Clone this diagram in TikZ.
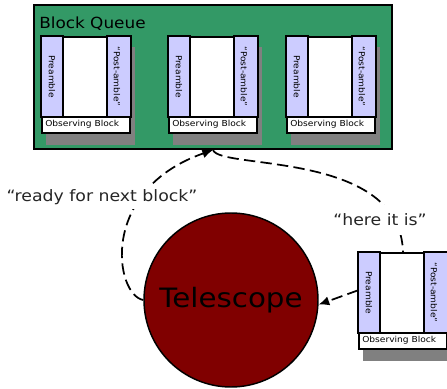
\documentclass[tikz,border=0pt]{standalone}
\usepackage{fontspec}
\setmainfont{DejaVu Sans}[FakeStretch=1.1]
\usetikzlibrary{arrows.meta}

\definecolor{queuegreen}{RGB}{51,153,102}
\definecolor{amblelav}{RGB}{204,204,255}
\definecolor{scopered}{RGB}{128,0,0}
\definecolor{shadowgrey}{RGB}{128,128,128}

\tikzset{
  blockbox/.style={draw, line width=1.5pt, fill=white, inner sep=0pt,
                   minimum width=66pt, minimum height=72pt},
  amble/.style={draw, line width=1.5pt, fill=amblelav},
  ambletext/.style={rotate=-90, inner sep=0pt, font=\fontsize{6.2}{7}\selectfont},
  captext/.style={inner sep=0pt, font=\fontsize{6.2}{7}\selectfont},
  flow/.style={line width=1.3pt, dash pattern=on 8.5pt off 4pt,
               >={Latex[length=8pt,width=7pt]}},
  talk/.style={fill=white, text=black!85, font=\fontsize{11.8}{14}\selectfont},
}

% name, left, top (pixels)
\newcommand{\obsblock}[3]{%
  \fill[shadowgrey] (#2+5,#3+11) rectangle (#2+94,#3+109);
  \node[blockbox, anchor=north west] (#1) at (#2,#3) {};
  \draw[amble] (#1.north west) rectangle ++(22,81);
  \draw[amble] (#1.north east) rectangle ++(-24,81);
  \draw[line width=1.1pt] (#2,#3+81) -- (#2+88,#3+81);
  \node[ambletext] (#1pre)  at (#2+11,#3+40.5) {Preamble};
  \node[ambletext] (#1post) at (#2+76,#3+40.5) {“Post-amble”};
  \node[captext, anchor=west] (#1cap) at (#2+4,#3+88.5) {Observing Block};
}

\begin{document}
\begin{tikzpicture}[x=0.75pt, y=-0.75pt]
  \useasboundingbox (0,0) rectangle (447,389);

  \node[draw, line width=1.5pt, fill=queuegreen, inner sep=0pt, anchor=north west,
        minimum width=268.5pt, minimum height=108pt] (queue) at (33,4) {};
  \node[anchor=base west, inner sep=0pt, font=\fontsize{11.5}{14}\selectfont] (title) at (39,28) {Block Queue};

  \obsblock{b1}{41}{36}
  \obsblock{b2}{168}{36}
  \obsblock{b3}{286}{36}
  \obsblock{b4}{358}{252}

  \node[circle, draw, line width=1.1pt, fill=scopered, inner sep=0pt, minimum size=130.5pt,
        font=\fontsize{20}{24}\selectfont] (scope) at (231,300) {Telescope};

  \draw[flow,->] (scope.west) .. controls (115,295) and (98,190) .. (queue.south);
  \draw[flow] (queue.south) .. controls (220,170) and (400,150) .. (b4.north);
  \draw[flow,->] ([yshift=8pt]b4.west) -- (scope.-3);

  \node[talk, inner sep=3.5pt] (ready) at (102,197) {“ready for next block”};
  \node[talk, inner sep=7pt] (here) at (380,220) {“here it is”};
\end{tikzpicture}
\end{document}
